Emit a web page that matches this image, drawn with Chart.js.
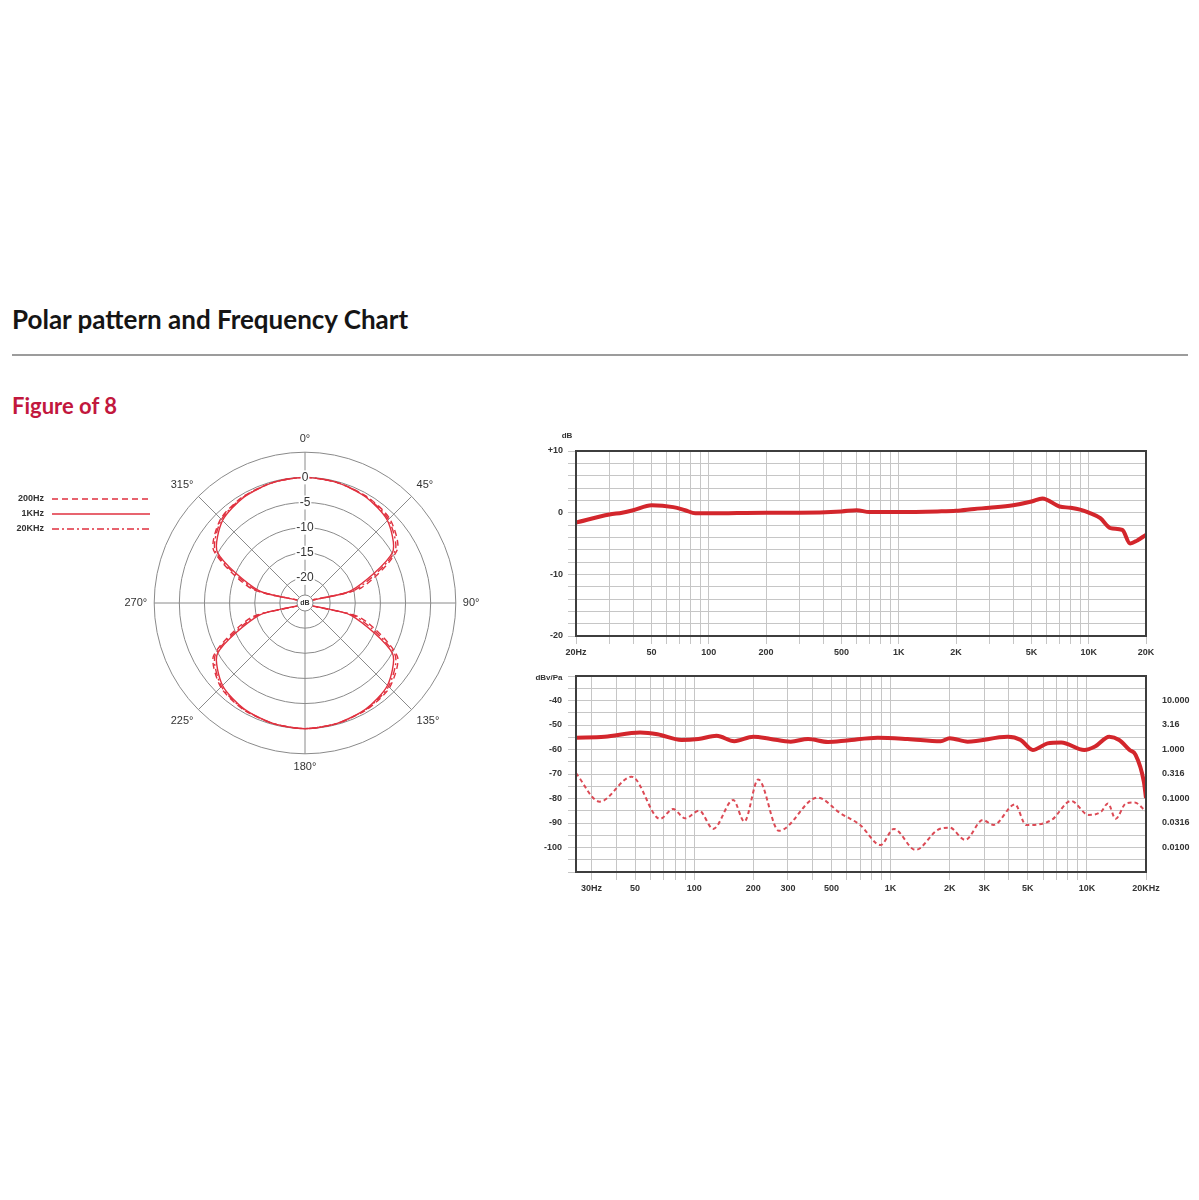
<!DOCTYPE html>
<html>
<head>
<meta charset="utf-8">
<script src="https://cdn.jsdelivr.net/npm/chart.js@4.4.1/dist/chart.umd.min.js"></script>
<style>
  body { margin: 0; background: #fff; width: 1199px; height: 1200px; position: relative; overflow: hidden; }
  h1 { position: absolute; left: 12px; top: 303px; margin: 0; font: bold 26px Lato, sans-serif; color: #151515; }
  .rule { position: absolute; left: 12px; top: 354px; width: 1176px; height: 2px; background: #9c9c9c; }
  h2 { position: absolute; left: 12px; top: 392px; margin: 0; font: bold 22px Lato, sans-serif; color: #c2173d; }
  canvas { position: absolute; }
  #polar { left: 0; top: 428px; }
  #resp { left: 520px; top: 420px; }
  #sens { left: 520px; top: 660px; }
</style>
</head>
<body>
<h1>Polar pattern and Frequency Chart</h1>
<div class="rule"></div>
<h2>Figure of 8</h2>
<canvas id="polar" width="610" height="350"></canvas>
<canvas id="resp" width="679" height="240"></canvas>
<canvas id="sens" width="679" height="245"></canvas>
<script>
// polar pattern, 15 degree steps, values in dB
const angles = [0, 15, 30, 45, 60, 75, 90, 105, 120, 135, 150, 165, 180, 195, 210, 225, 240, 255, 270, 285, 300, 315, 330, 345];
const polar200 = [0, -0.2, -0.5, -1.2, -3.8, -13.5, -25, -13.5, -3.8, -1.2, -0.5, -0.2, 0, -0.2, -0.5, -1.3, -4.0, -14.0, -25, -14.0, -4.0, -1.3, -0.5, -0.2];
const polar1k = [0, -0.2, -0.7, -1.8, -4.9, -15.5, -25, -15.5, -4.9, -1.8, -0.7, -0.2, 0, -0.2, -0.7, -1.8, -4.9, -15.5, -25, -15.5, -4.9, -1.8, -0.7, -0.2];
const polar20k = [0, -0.2, -0.6, -1.5, -4.3, -14.5, -25, -14.5, -4.3, -1.5, -0.6, -0.2, 0, -0.2, -0.6, -1.5, -4.4, -14.8, -25, -14.8, -4.4, -1.5, -0.6, -0.2];
const polarNames = ['200Hz', '1KHz', '20KHz'];

// frequency response (dB)
const respHz = [20, 30, 35, 40, 50, 65, 75, 85, 100, 200, 300, 500, 600, 700, 1000, 1600, 2000, 2500, 3000, 4000, 5000, 5700, 7000, 8000, 9000, 10000, 11500, 13000, 15000, 16500, 18000, 20000];
const respDb = [-1.6, -0.3, 0, 0.4, 1.2, 0.9, 0.4, -0.1, -0.1, 0, 0, 0.2, 0.4, 0.1, 0.1, 0.2, 0.3, 0.6, 0.8, 1.2, 1.8, 2.3, 1.0, 0.8, 0.5, 0, -0.9, -2.5, -2.8, -5.0, -4.5, -3.6];
const respTickHz = [20, 50, 100, 200, 500, 1000, 2000, 5000, 10000, 20000];
const respTickLabels = ['20Hz', '50', '100', '200', '500', '1K', '2K', '5K', '10K', '20K'];

// sensitivity (dBV/Pa) and the dashed curve below it
const sensHz = [25, 35, 53, 65, 86, 105, 130, 160, 200, 245, 310, 380, 480, 600, 860, 1220, 1800, 2000, 2470, 3950, 4600, 5300, 6300, 7400, 9700, 11000, 13000, 14600, 16500, 17700, 19500, 20000];
const sensDb = [-55.2, -54.8, -53.1, -53.8, -56.1, -55.7, -54.4, -56.6, -54.8, -55.7, -56.8, -55.7, -56.9, -56.3, -55.2, -55.7, -56.6, -55.4, -56.8, -54.8, -56.1, -60.2, -57.5, -57.1, -60.2, -58.8, -54.8, -56.1, -60.2, -62.2, -73.1, -79.8];
const noiseHz = [25, 33, 48, 67, 78, 90, 106, 125, 158, 180, 212, 270, 425, 555, 700, 890, 1040, 1340, 1740, 2000, 2400, 2950, 3350, 4300, 4900, 6600, 8300, 10200, 11800, 12800, 14000, 15800, 17500, 20000];
const noiseDb = [-69.7, -81.3, -71.1, -88.3, -84.3, -88.1, -85.0, -92.4, -80.6, -89.4, -72.2, -93.2, -79.6, -86.0, -90.8, -99.0, -92.4, -101.0, -92.8, -91.9, -96.9, -88.8, -90.8, -82.4, -90.8, -88.8, -81.0, -86.7, -85.4, -82.0, -88.3, -82.0, -81.6, -85.4];
const sensTickHz = [30, 50, 100, 200, 300, 500, 1000, 2000, 3000, 5000, 10000, 20000];
const sensTickLabels = ['30Hz', '50', '100', '200', '300', '500', '1K', '2K', '3K', '5K', '10K', '20KHz'];
const dbvTicks = [-40, -50, -60, -70, -80, -90, -100];
const mvTickLabels = ['10.000', '3.16', '1.000', '0.316', '0.1000', '0.0316', '0.0100'];

const RED = '#d3262c';
const POLAR_RED = '#e0313f';
const tickFont = { family: 'Liberation Sans', size: 9, weight: 'bold' };

// gridlines at 1..9 x every decade
const gridHz = (lo, hi) => {
  const out = [];
  for (let e = 1; e <= 4; e++) {
    for (let m = 1; m <= 9; m++) {
      const v = m * Math.pow(10, e);
      if (v >= lo && v <= hi) out.push(v);
    }
  }
  return out;
};

const tickVal = c => (c && c.tick ? c.tick.value : null);

const frame = {
  id: 'frame',
  afterDatasetsDraw(chart) {
    const { ctx, chartArea: a } = chart;
    ctx.save();
    ctx.strokeStyle = '#3e3e3e';
    ctx.lineWidth = 2;
    ctx.strokeRect(a.left, a.top, a.right - a.left, a.bottom - a.top);
    ctx.restore();
  }
};

const unitLabel = (text, dx, dy) => ({
  id: 'unit',
  afterDraw(chart) {
    const ctx = chart.ctx;
    ctx.save();
    ctx.font = 'bold 8px "Liberation Sans"';
    ctx.fillStyle = '#333';
    ctx.textAlign = 'center';
    ctx.textBaseline = 'middle';
    ctx.fillText(text, chart.chartArea.left + dx, chart.chartArea.top + dy);
    ctx.restore();
  }
});

const polarExtras = {
  id: 'polarExtras',
  afterDatasetsDraw(chart) {
    const ctx = chart.ctx;
    const r = chart.scales.r;
    ctx.save();
    ctx.beginPath();
    ctx.arc(r.xCenter, r.yCenter, 8, 0, Math.PI * 2);
    ctx.fillStyle = '#fff';
    ctx.fill();
    ctx.strokeStyle = '#8a8a8a';
    ctx.lineWidth = 1;
    ctx.stroke();
    ctx.restore();
  },
  afterDraw(chart) {
    const ctx = chart.ctx;
    chart.data.datasets.forEach((ds, i) => {
      const y = 71 + i * 15;
      ctx.save();
      ctx.font = 'bold 9px "Liberation Sans"';
      ctx.fillStyle = '#333';
      ctx.textAlign = 'right';
      ctx.textBaseline = 'middle';
      ctx.fillText(ds.label, 44, y);
      ctx.strokeStyle = ds.borderColor;
      ctx.lineWidth = 1.5;
      ctx.setLineDash(ds.borderDash || []);
      ctx.beginPath();
      ctx.moveTo(52, y);
      ctx.lineTo(150, y);
      ctx.stroke();
      ctx.restore();
    });
  }
};

new Chart(document.getElementById('polar'), {
  type: 'radar',
  data: {
    labels: angles.map(a => a + '°'),
    datasets: [
      { label: polarNames[0], data: polar200, borderColor: POLAR_RED, borderWidth: 1.4, borderDash: [6, 4], pointRadius: 0, fill: false, tension: 0.25 },
      { label: polarNames[1], data: polar1k, borderColor: POLAR_RED, borderWidth: 1.4, pointRadius: 0, fill: false, tension: 0.25 },
      { label: polarNames[2], data: polar20k, borderColor: POLAR_RED, borderWidth: 1.4, borderDash: [7, 3, 2, 3], pointRadius: 0, fill: false, tension: 0.25 }
    ]
  },
  options: {
    responsive: false,
    animation: false,
    layout: { padding: { top: 4, bottom: 4 } },
    plugins: { legend: { display: false }, tooltip: { enabled: false } },
    scales: {
      r: {
        min: -25,
        max: 5,
        grid: { circular: true, color: '#8a8a8a', lineWidth: 1 },
        angleLines: { color: c => (c.index % 3 === 0 ? '#8a8a8a' : 'transparent'), lineWidth: 1 },
        pointLabels: {
          callback: (l, i) => (i % 3 === 0 ? l : ''),
          font: { family: 'Liberation Sans', size: 11 },
          color: '#333',
          padding: 0
        },
        ticks: {
          z: 1,
          stepSize: 5,
          callback: v => (v === 5 ? '' : v === -25 ? 'dB' : String(v)),
          showLabelBackdrop: c => tickVal(c) !== 5,
          backdropColor: '#fff',
          backdropPadding: 1,
          color: '#333',
          font: c => (tickVal(c) === -25 ? { family: 'Liberation Sans', size: 7, weight: 'bold' } : { family: 'Liberation Sans', size: 12 })
        }
      }
    }
  },
  plugins: [polarExtras]
});

new Chart(document.getElementById('resp'), {
  type: 'line',
  data: {
    datasets: [{ data: respHz.map((f, i) => ({ x: f, y: respDb[i] })), borderColor: RED, borderWidth: 4, pointRadius: 0, cubicInterpolationMode: 'monotone' }]
  },
  options: {
    responsive: false,
    animation: false,
    layout: { padding: { top: 31, right: 53, bottom: 4, left: 0 } },
    plugins: { legend: { display: false }, tooltip: { enabled: false } },
    scales: {
      x: {
        type: 'logarithmic',
        min: 20,
        max: 20000,
        afterBuildTicks: s => { s.ticks = gridHz(20, 20000).map(v => ({ value: v })); },
        afterFit: s => { s.height = 20; },
        grid: { color: '#c6c6c6', lineWidth: 1 },
        border: { display: false },
        ticks: {
          autoSkip: false, maxRotation: 0, padding: 3, color: '#333', font: tickFont,
          callback: v => { const i = respTickHz.indexOf(Math.round(v)); return i >= 0 ? respTickLabels[i] : ''; }
        }
      },
      y: {
        min: -20,
        max: 10,
        afterFit: s => { s.width = 56; },
        grid: { color: '#c6c6c6', lineWidth: 1 },
        border: { display: false },
        ticks: {
          autoSkip: false, stepSize: 2, padding: 5, color: '#333', font: tickFont,
          callback: v => (v === 10 ? '+10' : v % 10 === 0 ? String(v) : '')
        }
      }
    }
  },
  plugins: [frame, unitLabel('dB', -9, -15)]
});

new Chart(document.getElementById('sens'), {
  type: 'line',
  data: {
    datasets: [
      { data: sensHz.map((f, i) => ({ x: f, y: sensDb[i] })), borderColor: RED, borderWidth: 4, pointRadius: 0, cubicInterpolationMode: 'monotone' },
      { data: noiseHz.map((f, i) => ({ x: f, y: noiseDb[i] })), borderColor: '#dc4a55', borderWidth: 2, borderDash: [4, 3], pointRadius: 0, cubicInterpolationMode: 'monotone' }
    ]
  },
  options: {
    responsive: false,
    animation: false,
    layout: { padding: { top: 16, right: 0, bottom: 13, left: 0 } },
    plugins: { legend: { display: false }, tooltip: { enabled: false } },
    scales: {
      x: {
        type: 'logarithmic',
        min: 25,
        max: 20000,
        afterBuildTicks: s => { s.ticks = gridHz(25, 20000).map(v => ({ value: v })); },
        afterFit: s => { s.height = 20; },
        grid: { color: '#c6c6c6', lineWidth: 1 },
        border: { display: false },
        ticks: {
          autoSkip: false, maxRotation: 0, padding: 3, color: '#333', font: tickFont,
          callback: v => { const i = sensTickHz.indexOf(Math.round(v)); return i >= 0 ? sensTickLabels[i] : ''; }
        }
      },
      y: {
        min: -110,
        max: -30,
        afterFit: s => { s.width = 56; },
        grid: { color: '#c6c6c6', lineWidth: 1 },
        border: { display: false },
        ticks: {
          autoSkip: false, stepSize: 5, padding: 6, color: '#333', font: tickFont,
          callback: v => (dbvTicks.includes(v) ? String(v) : '')
        }
      },
      y2: {
        position: 'right',
        min: -110,
        max: -30,
        afterFit: s => { s.width = 53; },
        grid: { display: false },
        border: { display: false },
        ticks: {
          autoSkip: false, stepSize: 10, padding: 8, color: '#333', font: tickFont,
          callback: v => { const i = dbvTicks.indexOf(v); return i >= 0 ? mvTickLabels[i] : ''; }
        }
      }
    }
  },
  plugins: [frame, unitLabel('dBv/Pa', -27, 2)]
});
</script>
</body>
</html>
